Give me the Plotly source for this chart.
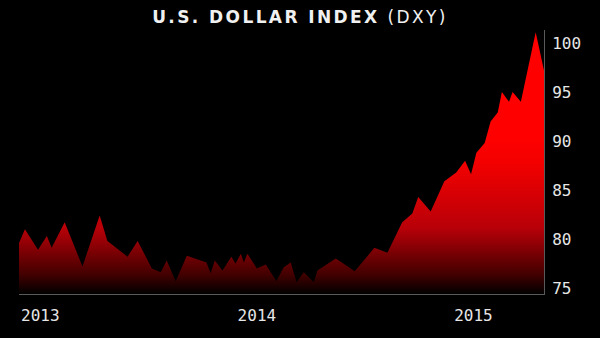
import plotly.graph_objects as go

dates = [
    "2012-11-26", "2012-12-06", "2012-12-28", "2013-01-12", "2013-01-20", "2013-02-11",
    "2013-03-13", "2013-04-11", "2013-04-24", "2013-05-28", "2013-06-14", "2013-07-08",
    "2013-07-23", "2013-08-02", "2013-08-17", "2013-09-05", "2013-10-08", "2013-10-15",
    "2013-10-22", "2013-11-04", "2013-11-19", "2013-11-26", "2013-12-05", "2013-12-10",
    "2013-12-16", "2014-01-01", "2014-01-16", "2014-02-03", "2014-02-15", "2014-02-27",
    "2014-03-09", "2014-03-21", "2014-04-07", "2014-04-13", "2014-05-14", "2014-06-15",
    "2014-07-18", "2014-08-09", "2014-09-03", "2014-09-20", "2014-09-30", "2014-10-21",
    "2014-11-13", "2014-12-03", "2014-12-18", "2014-12-28", "2015-01-06", "2015-01-20",
    "2015-01-30", "2015-02-11", "2015-02-18", "2015-03-02", "2015-03-08", "2015-03-22",
    "2015-04-16", "2015-04-30",
]
dxy = [
    79.6, 81.0, 78.9, 80.3, 79.1, 81.7,
    77.2, 82.4, 79.8, 78.2, 79.8, 77.0,
    76.6, 77.8, 75.7, 78.3, 77.6, 76.5,
    77.8, 76.8, 78.2, 77.5, 78.5, 77.6,
    78.5, 77.0, 77.4, 75.7, 77.1, 77.6,
    75.6, 76.6, 75.6, 76.8, 78.0, 76.7,
    79.1, 78.6, 81.7, 82.6, 84.3, 82.8,
    85.9, 86.8, 88.0, 86.6, 88.8, 89.8,
    92.0, 92.9, 95.0, 94.0, 95.0, 94.0,
    101.1, 97.2,
]
year_ticks = ["2013-01-01", "2014-01-01", "2015-01-01"]
year_labels = ["2013", "2014", "2015"]
y_ticks = [75, 80, 85, 90, 95, 100]

Y_MIN, Y_MAX = 74.39, 101.33

fig = go.Figure()
fig.add_trace(go.Scatter(
    x=dates, y=dxy, mode="none", fill="tozeroy",
    fillgradient=dict(
        type="vertical", start=Y_MIN, stop=Y_MAX,
        colorscale=[[0, "#000000"], [0.07, "#400000"], [0.25, "#b80008"],
                    [0.5, "#f40000"], [0.6, "#ff0000"], [1, "#ff0000"]],
    ),
    hoverinfo="x+y",
))

fig.update_layout(
    width=600, height=338,
    paper_bgcolor="#000000", plot_bgcolor="#000000",
    margin=dict(l=19, r=56, t=30, b=44),
    showlegend=False,
    title=dict(
        text="<span style='letter-spacing:2.4px'><b>U.S. DOLLAR INDEX</b> (DXY)</span>",
        x=0.5, xanchor="center", y=0.95, yanchor="middle",
        font=dict(family="DejaVu Sans", size=17, color="#f0f0f0"),
    ),
    xaxis=dict(
        type="date", range=[dates[0], dates[-1]],
        tickvals=year_ticks, ticktext=year_labels,
        showgrid=False, zeroline=False,
        showline=True, linecolor="#5a5a5a", linewidth=1,
        ticks="outside", ticklen=7, tickcolor="rgba(0,0,0,0)",
        tickfont=dict(family="DejaVu Sans Mono", size=16, color="#e6e6e6"),
    ),
    yaxis=dict(
        side="right", range=[Y_MIN, Y_MAX],
        tickvals=y_ticks,
        showgrid=False, zeroline=False,
        showline=True, linecolor="#5a5a5a", linewidth=1,
        ticks="outside", ticklen=4, tickcolor="rgba(0,0,0,0)",
        tickfont=dict(family="DejaVu Sans Mono", size=16, color="#e6e6e6"),
    ),
)

fig.write_html("out.html")
